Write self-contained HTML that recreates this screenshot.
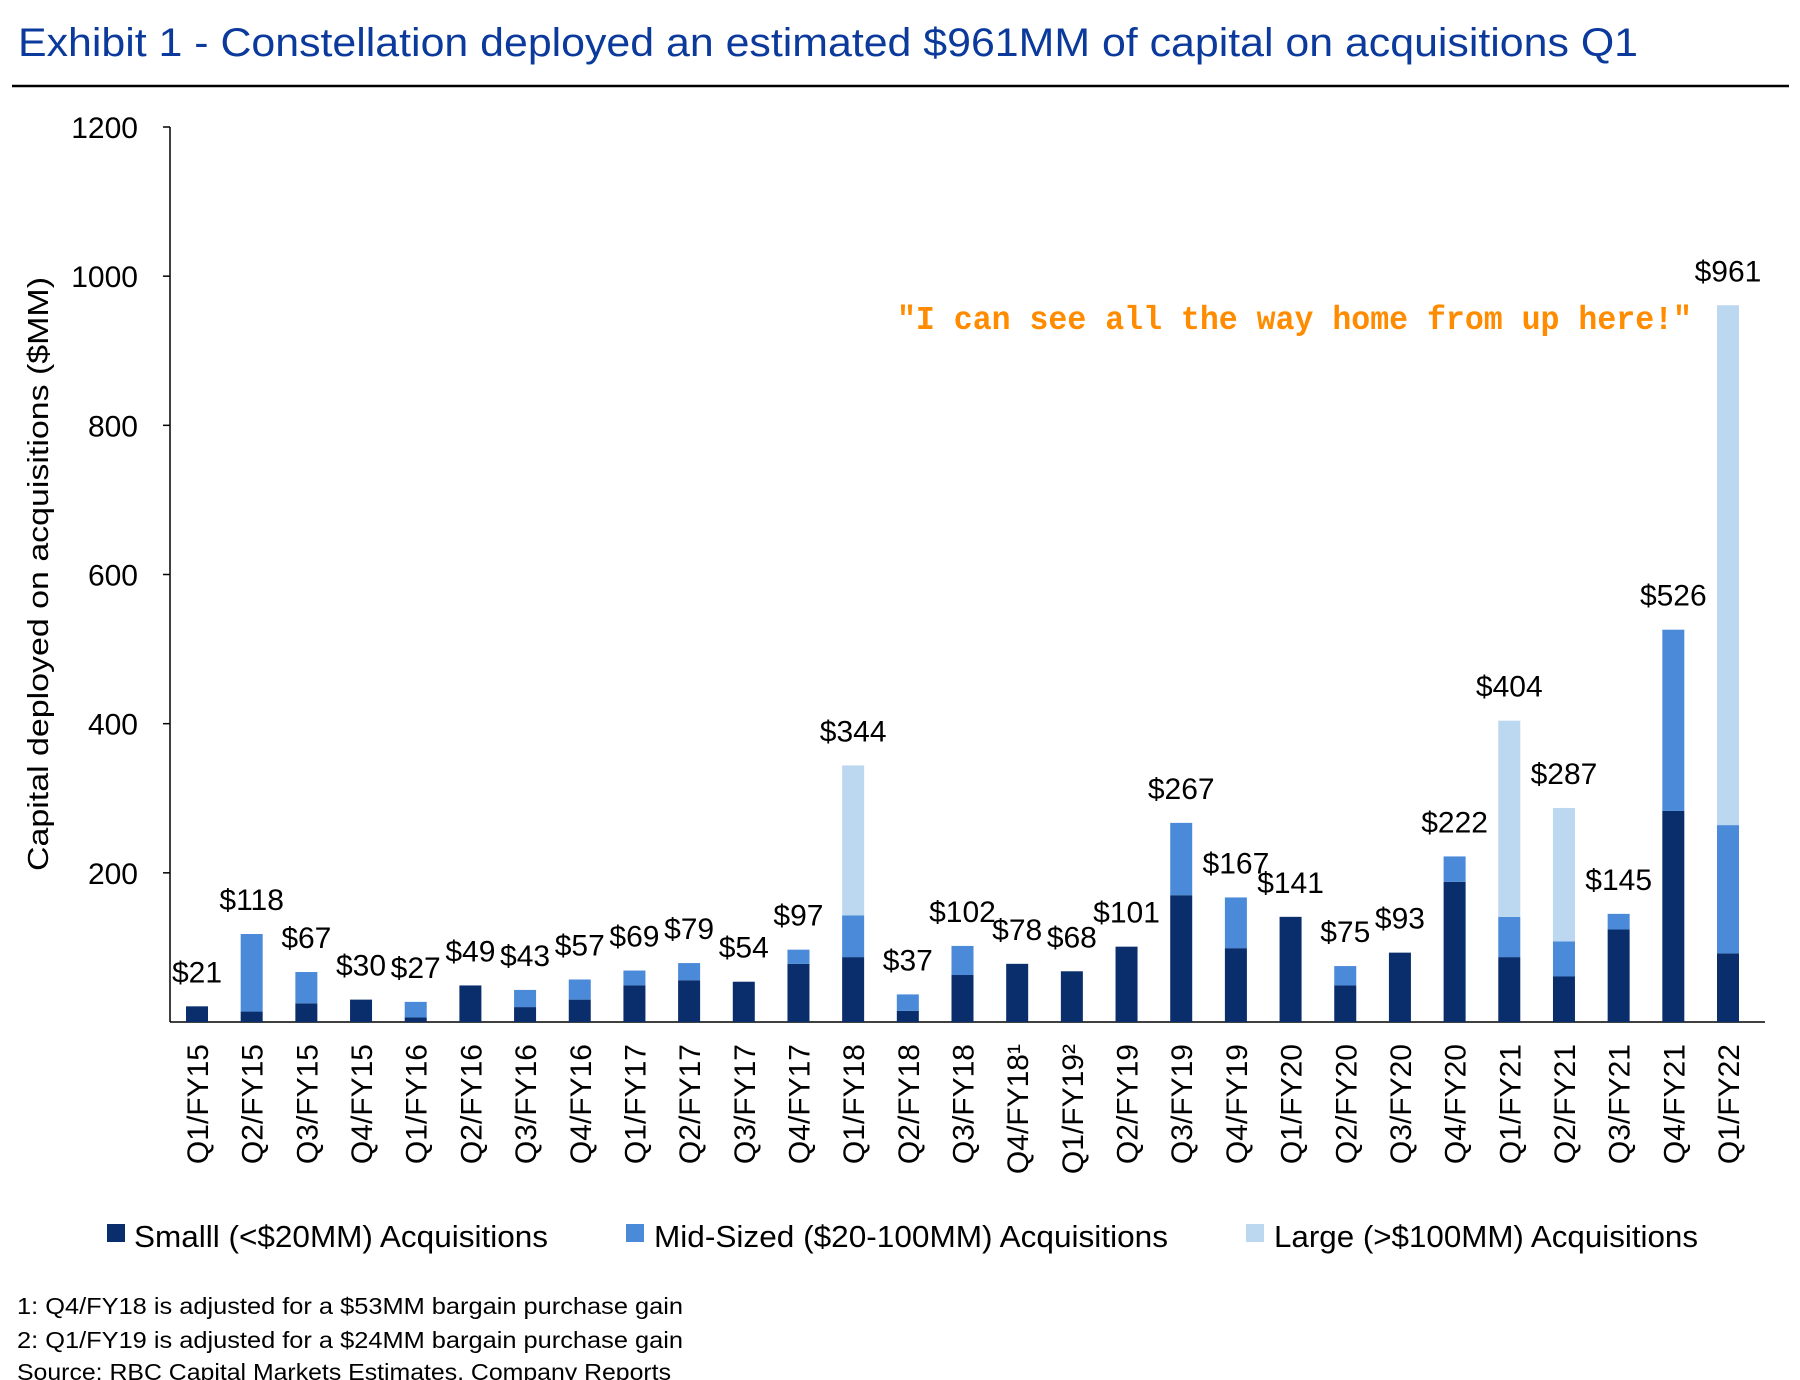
<!DOCTYPE html>
<html><head><meta charset="utf-8"><style>
html,body{margin:0;padding:0;background:#fff;}
svg{display:block;}
</style></head><body>
<svg id="chart" width="1800" height="1380" xmlns="http://www.w3.org/2000/svg">
<text x="18" y="56" textLength="1620" lengthAdjust="spacingAndGlyphs" font-family="'Liberation Sans',sans-serif" font-size="40" fill="#0b3a9c">Exhibit 1 - Constellation deployed an estimated $961MM of capital on acquisitions Q1</text>
<line x1="12" y1="86" x2="1789" y2="86" stroke="#000" stroke-width="2.5"/>
<g id="plot"></g>
<text x="1692" y="329" text-anchor="end" textLength="795" lengthAdjust="spacingAndGlyphs" font-family="'Liberation Mono',monospace" font-weight="bold" font-size="33" fill="#ff8c00">"I can see all the way home from up here!"</text>
<text transform="translate(48,574) rotate(-90)" text-anchor="middle" textLength="594" lengthAdjust="spacingAndGlyphs" font-family="'Liberation Sans',sans-serif" font-size="29" fill="#000">Capital deployed on acquisitions ($MM)</text>
<g font-family="'Liberation Sans',sans-serif" font-size="31" fill="#000">
<rect x="107" y="1224" width="18" height="18" fill="#0a2d6b"/>
<text x="134" y="1247" textLength="414" lengthAdjust="spacingAndGlyphs">Smalll (&lt;$20MM) Acquisitions</text>
<rect x="626" y="1224" width="18" height="18" fill="#4a8ad8"/>
<text x="654" y="1247" textLength="514" lengthAdjust="spacingAndGlyphs">Mid-Sized ($20-100MM) Acquisitions</text>
<rect x="1246" y="1224" width="18" height="18" fill="#bcd7f0"/>
<text x="1274" y="1247" textLength="424" lengthAdjust="spacingAndGlyphs">Large (&gt;$100MM) Acquisitions</text>
</g>
<g font-family="'Liberation Sans',sans-serif" font-size="23" fill="#000">
<text x="17" y="1314" textLength="666" lengthAdjust="spacingAndGlyphs">1: Q4/FY18 is adjusted for a $53MM bargain purchase gain</text>
<text x="17" y="1348" textLength="666" lengthAdjust="spacingAndGlyphs">2: Q1/FY19 is adjusted for a $24MM bargain purchase gain</text>
<text x="17" y="1380" textLength="654" lengthAdjust="spacingAndGlyphs">Source: RBC Capital Markets Estimates, Company Reports</text>
</g>
</svg>
<script>
const categories=["Q1/FY15","Q2/FY15","Q3/FY15","Q4/FY15","Q1/FY16","Q2/FY16","Q3/FY16","Q4/FY16","Q1/FY17","Q2/FY17","Q3/FY17","Q4/FY17","Q1/FY18","Q2/FY18","Q3/FY18","Q4/FY18¹","Q1/FY19²","Q2/FY19","Q3/FY19","Q4/FY19","Q1/FY20","Q2/FY20","Q3/FY20","Q4/FY20","Q1/FY21","Q2/FY21","Q3/FY21","Q4/FY21","Q1/FY22"];
const small=[21,14,25,30,6,49,20,30,49,56,54,78,87,15,63,78,68,101,170,99,141,49,93,188,87,61,124,283,92];
const mid=[0,104,42,0,21,0,23,27,20,23,0,19,56,22,39,0,0,0,97,68,0,26,0,34,54,47,21,243,172];
const large=[0,0,0,0,0,0,0,0,0,0,0,0,201,0,0,0,0,0,0,0,0,0,0,0,263,179,0,0,697];
const totalLabels=["$21","$118","$67","$30","$27","$49","$43","$57","$69","$79","$54","$97","$344","$37","$102","$78","$68","$101","$267","$167","$141","$75","$93","$222","$404","$287","$145","$526","$961"];
const yTicks=[200,400,600,800,1000,1200];
const NS="http://www.w3.org/2000/svg";
const g=document.getElementById('plot');
const y0=1022,yTop=127,yMax=1200,x0=170,xEnd=1765,firstC=197,lastC=1728,bw=22;
function yS(v){return y0-v/yMax*(y0-yTop);}
function xS(i){return firstC+i*(lastC-firstC)/(categories.length-1);}
function mk(t,a){const e=document.createElementNS(NS,t);for(const k in a)e.setAttribute(k,a[k]);g.appendChild(e);return e;}
let ax=mk('line',{x1:x0,y1:yTop,x2:x0,y2:y0,stroke:'#000','stroke-width':1.5});


let bx=mk('line',{x1:x0,y1:y0,x2:xEnd,y2:y0,stroke:'#000','stroke-width':1.5});


yTicks.forEach(v=>{
  const tk=mk('line',{x1:x0-7,y1:yS(v),x2:x0,y2:yS(v),stroke:'#000','stroke-width':1.5});
  
  
  const t=mk('text',{x:138,y:yS(v)+11,'text-anchor':'end','font-family':"'Liberation Sans',sans-serif",'font-size':30});
  t.textContent=v;
  
  
});
const colors=['#0a2d6b','#4a8ad8','#bcd7f0'];
categories.forEach((c,i)=>{
  const cx=xS(i);let base=0;
  [small[i],mid[i],large[i]].forEach((v,k)=>{
    if(v<=0)return;
    const r=mk('rect',{x:cx-bw/2,y:yS(base+v),width:bw,height:yS(base)-yS(base+v),fill:colors[k]});
    
    
    base+=v;
  });
  const lb=mk('text',{x:cx,y:yS(base)-24,'text-anchor':'middle','font-family':"'Liberation Sans',sans-serif",'font-size':30});
  lb.textContent=totalLabels[i];
  
  
  const xl=mk('text',{transform:'translate('+(cx+11)+',1044) rotate(-90)','text-anchor':'end','font-family':"'Liberation Sans',sans-serif",'font-size':30});
  xl.textContent=c;
  
  
});
</script>
</body></html>
